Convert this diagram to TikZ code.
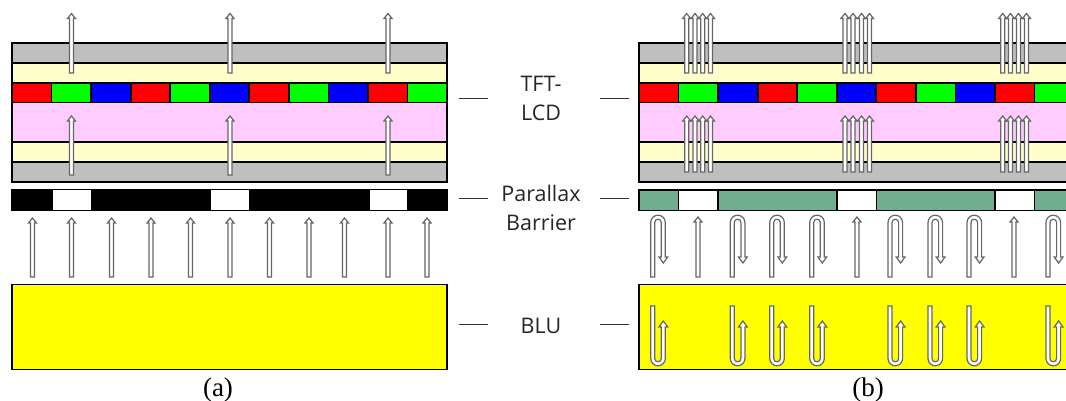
\documentclass[tikz,border=0pt]{standalone}
\usepackage{fontspec}
\setmainfont{Liberation Serif}
\newfontfamily\lblfont{Open Sans}
\definecolor{gr}{HTML}{BFBFBF}
\definecolor{cream}{HTML}{FFFFCC}
\definecolor{pinkl}{HTML}{FFCCFF}
\definecolor{teal2}{HTML}{71AD8F}
\definecolor{rgbR}{HTML}{FF0000}
\definecolor{rgbG}{HTML}{00FF00}
\definecolor{rgbB}{HTML}{0000FF}
\definecolor{rgbY}{HTML}{FFFF00}
\tikzset{
  layer/.style={draw=black,line width=1.8pt},
  hollow/.style={draw=black!60,line width=1.2pt,fill=white,line join=miter},
  leader/.style={draw=black!80,line width=0.9pt},
  lbl/.style={font=\lblfont\fontsize{21.5}{29}\selectfont,align=center,text=black!85,inner sep=0pt},
  cap2/.style={font=\fontsize{27}{30}\selectfont,inner sep=0pt}
}
% straight hollow arrow: x, top, bottom
\newcommand\sarr[3]{\path[hollow] (#1-2,#3) -- (#1-2,#2+5) -- (#1-4,#2+5) -- (#1,#2) -- (#1+4,#2+5) -- (#1+2,#2+5) -- (#1+2,#3) -- cycle;}
% inverted U with down head: left leg x
\newcommand\uarr[1]{\path[hollow] (#1-2,277) -- (#1-2,222.5) arc[start angle=180,end angle=0,radius=7.3pt] -- (#1+12.6,257) -- (#1+15,257) -- (#1+10.6,263) -- (#1+6.2,257) -- (#1+8.6,257) -- (#1+8.6,222.5) arc[start angle=0,end angle=180,radius=3.3pt] -- (#1+2,277) -- cycle;}
% J with up head: left leg x
\newcommand\jarr[1]{\path[hollow] (#1-2,306) -- (#1-2,358.5) arc[start angle=180,end angle=360,radius=7.3pt] -- (#1+12.6,327) -- (#1+15,327) -- (#1+10.6,321) -- (#1+6.2,327) -- (#1+8.6,327) -- (#1+8.6,358.5) arc[start angle=0,end angle=-180,radius=3.3pt] -- (#1+2,306) -- cycle;}
% LCD stack starting at x=#1, ending at x=#2
\newcommand\stack[2]{
  \path[layer,fill=gr] (#1,43) rectangle (#2,63);
  \path[layer,fill=cream] (#1,63) rectangle (#2,83);
  \path[layer,fill=pinkl] (#1,102.5) rectangle (#2,142);
  \path[layer,fill=cream] (#1,142) rectangle (#2,162);
  \path[layer,fill=gr] (#1,162) rectangle (#2,182);
  \foreach \i/\c in {0/rgbR,1/rgbG,2/rgbB,3/rgbR,4/rgbG,5/rgbB,6/rgbR,7/rgbG,8/rgbB,9/rgbR,10/rgbG}{
    \pgfmathsetmacro\xa{#1+\i*39.55}
    \pgfmathsetmacro\xb{min(#1+(\i+1)*39.55,#2)}
    \path[layer,fill=\c] (\xa,83) rectangle (\xb,102.5);
  }
  \path[layer] (#1,43) rectangle (#2,182);
}
\begin{document}
\begin{tikzpicture}[x=1pt,y=-1pt]
\useasboundingbox (0,0) rectangle (1066,401);
\clip (0,0) rectangle (1066,401);
\fill[white] (0,0) rectangle (1066,401);
% ---------- panel (a)
\stack{12}{447}
\foreach \x in {71.5,230,388}{
  \sarr{\x}{13.5}{73}
  \sarr{\x}{116}{175}
}
\path[fill=black] (11,189) rectangle (448,211);
\foreach \x in {53,211,369.5}{
  \path[fill=white] (\x,190.5) rectangle (\x+37.5,209.5);
}
\foreach \x in {32.5,71.5,111.5,151,190.5,230,269.5,309,344.5,388,427}{
  \sarr{\x}{218}{277}
}
\path[layer,fill=rgbY] (12,284.5) rectangle (447,369.5);
% ---------- panel (b)
\stack{639}{1080}
\foreach \x in {686.7,695,702.7,710.5,845,853,861.5,869.5,1002.7,1010.5,1018.5,1026.5}{
  \sarr{\x}{13.5}{73}
  \sarr{\x}{116}{172}
}
\path[layer,fill=teal2] (639,190) rectangle (1080,210.5);
\foreach \x in {678.5,837,995}{
  \path[layer,fill=white] (\x,190) rectangle (\x+39.5,210.5);
}
\foreach \x in {698,857,1014}{\sarr{\x}{217}{277}}
\foreach \x in {652.7,732.3,771.7,811.7,890,930,969,1048}{\uarr{\x}}
\path[layer,fill=rgbY] (639,284.5) rectangle (1080,369.5);
\foreach \x in {652.7,732.3,771.7,811.7,890,930,969,1048}{\jarr{\x}}
% ---------- labels
\node[lbl] (tft) at (541,98) {TFT-\\LCD};
\node[lbl] (pb) at (541,207.5) {Parallax\\Barrier};
\node[lbl] (blu) at (541,325.5) {BLU};
\node[cap2] (capa) at (218,390) {(a)};
\node[cap2] (capb) at (868,390) {(b)};
% ---------- leaders
\foreach \n/\y in {t/98,p/198.5,b/324.5}{
  \coordinate (\n la) at (458.5,\y);
  \coordinate (\n lb) at (487.5,\y);
  \coordinate (\n ra) at (600,\y);
  \coordinate (\n rb) at (629,\y);
  \draw[leader] (\n la) -- (\n lb);
  \draw[leader] (\n ra) -- (\n rb);
}
\end{tikzpicture}
\end{document}
